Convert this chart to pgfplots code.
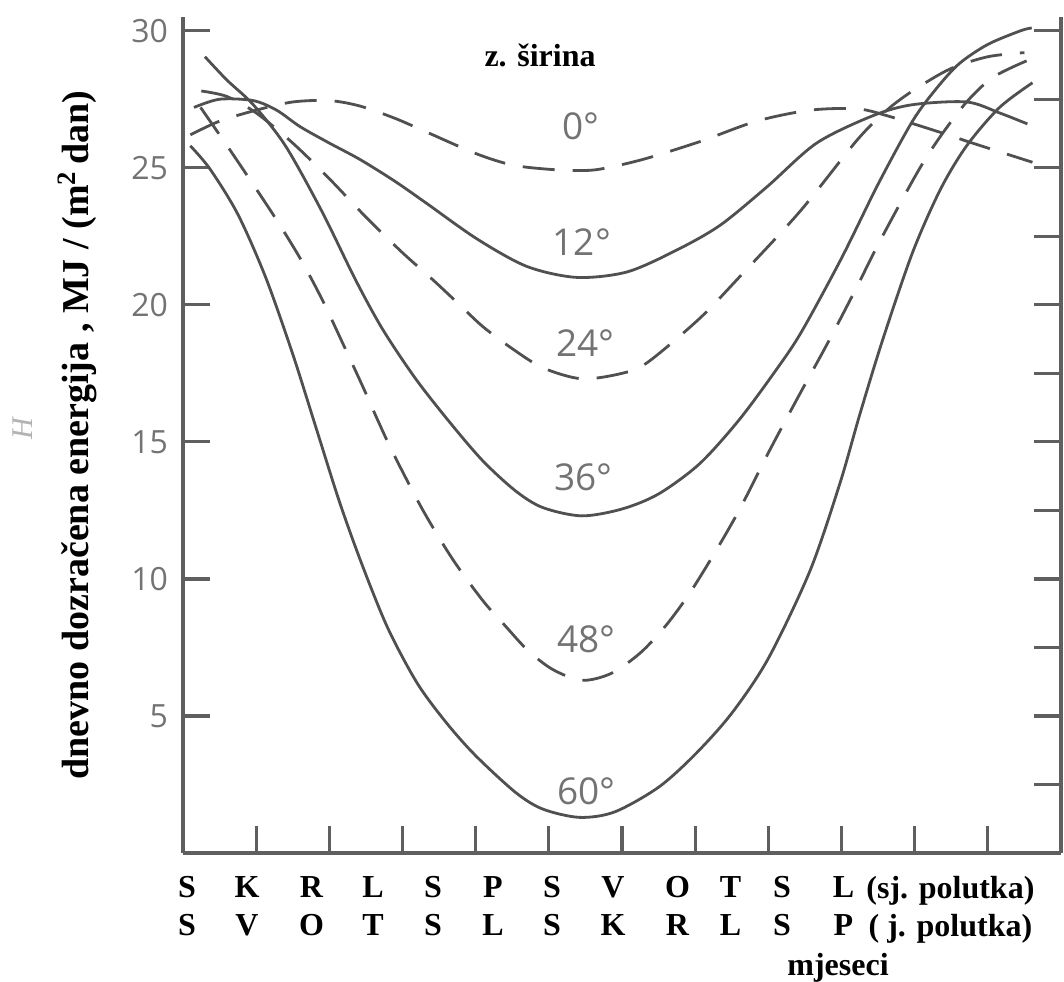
\documentclass[border=0pt]{standalone}
\usepackage{pgfplots}
\pgfplotsset{compat=1.18}
\usepackage{fontspec}
\setmainfont{Liberation Serif}
\newfontfamily\numfont{Open Sans}
\definecolor{curvegray}{RGB}{80,80,80}
\definecolor{axisgray}{RGB}{95,95,95}
\definecolor{labelgray}{RGB}{115,115,115}
\begin{document}
\begin{tikzpicture}
\path[use as bounding box] (-91.5pt,-64pt) rectangle (440.5pt,426.5pt);
\begin{axis}[
  at={(0pt,0pt)}, anchor=south west,
  scale only axis, width=439pt, height=418pt,
  xmin=0, xmax=12, ymin=0, ymax=30.5,
  axis lines*=left,
  xtick pos=left, ytick pos=left,
  tick align=inside,
  axis line style={line width=1.6pt, draw=axisgray},
  xtick={1,...,11},
  xticklabels={,,,,,,,,,,},
  ytick={5,10,15,20,25,30},
  major tick length=13.5pt,
  every tick/.style={line width=1.6pt, draw=axisgray},
  yticklabel style={font=\numfont\fontsize{16}{16}\selectfont, text=labelgray, xshift=-4pt},
  /pgf/number format/assume math mode=true,
  extra x ticks={0.055,0.875,1.756,2.597,3.417,4.237,5.043,5.877,6.758,7.483,8.187,9.027,10.489},
  extra x tick labels={{S\\S},{K\\V},{R\\O},{L\\T},{S\\S},{P\\L},{S\\S},{V\\K},{O\\R},{T\\L},{S\\S},{L\\P},{(sj. polutka)\\( j. polutka)}},
  extra x tick style={major tick length=0pt},
  xticklabel style={font=\bfseries\fontsize{16}{19}\selectfont, align=center, anchor=north, yshift=-8pt},
  xlabel={mjeseci},
  xlabel style={at={(axis description cs:0.746,0)}, anchor=base, yshift=-61pt, font=\bfseries\fontsize{16}{19}\selectfont},
  ylabel={dnevno dozračena energija , MJ / (m\textsuperscript{2}\,dan)},
  ylabel style={at={(axis description cs:-0.108,0.5)}, anchor=base, rotate=0, font=\bfseries\fontsize{19}{23}\selectfont},
  clip=false,
]
% 0 deg
\addplot[curvegray, line width=1.4pt, dash pattern=on 16pt off 9pt, smooth] coordinates {
(0.1,26.2)(0.5,26.7)(1.0,27.1)(1.5,27.4)(2.0,27.45)(2.42,27.25)(2.9,26.8)(3.33,26.3)(4.02,25.5)(4.5,25.1)(4.97,24.95)(5.4,24.9)(5.70,24.95)(6.28,25.3)(7.06,25.95)(7.84,26.7)(8.57,27.1)(9.21,27.15)(9.62,26.9)(10.34,26.3)(10.79,25.9)(11.61,25.2)};
% 12 deg
\addplot[curvegray, line width=1.4pt, smooth] coordinates {
(0.15,27.2)(0.5,27.5)(0.96,27.45)(1.28,27.1)(1.6,26.5)(2.0,25.9)(2.42,25.3)(2.9,24.5)(3.33,23.7)(4.02,22.4)(4.70,21.4)(5.38,21.0)(6.07,21.2)(6.75,22.0)(7.34,22.9)(7.98,24.3)(8.66,25.9)(9.43,26.9)(9.97,27.3)(10.71,27.4)(11.16,27.0)(11.54,26.6)};
% 24 deg
\addplot[curvegray, line width=1.4pt, dash pattern=on 16pt off 9pt, smooth] coordinates {
(0.25,27.8)(0.6,27.6)(1.0,27.0)(1.5,25.9)(2.0,24.6)(2.5,23.2)(3.0,21.9)(3.42,20.9)(3.78,20.0)(4.10,19.2)(4.5,18.4)(4.92,17.7)(5.45,17.3)(6.0,17.5)(6.35,17.9)(7.06,19.5)(7.6,21.0)(8.43,23.4)(9.21,26.0)(9.62,27.1)(9.97,27.8)(10.48,28.6)(11.0,29.05)(11.5,29.2)};
% 36 deg
\addplot[curvegray, line width=1.4pt, smooth] coordinates {
(0.3,29.05)(0.6,28.2)(0.96,27.3)(1.4,25.8)(1.9,23.4)(2.36,20.9)(2.73,19.1)(3.18,17.3)(3.65,15.7)(4.10,14.3)(4.55,13.2)(4.92,12.6)(5.45,12.3)(6.0,12.55)(6.5,13.1)(7.06,14.2)(7.6,15.8)(8.1,17.6)(8.45,19.0)(9.0,21.7)(9.5,24.4)(9.97,26.7)(10.3,27.9)(10.61,28.8)(11.0,29.5)(11.45,30.0)(11.6,30.1)};
% 48 deg
\addplot[curvegray, line width=1.4pt, dash pattern=on 16pt off 9pt, smooth] coordinates {
(0.24,27.2)(0.68,25.5)(1.23,23.3)(1.6,21.7)(1.9,20.2)(2.2,18.5)(2.46,17.0)(2.66,15.8)(2.87,14.6)(3.28,12.5)(3.69,10.7)(4.10,9.2)(4.4,8.3)(4.71,7.4)(5.05,6.7)(5.45,6.3)(5.85,6.55)(6.25,7.3)(6.6,8.3)(6.93,9.5)(7.3,11.1)(7.62,12.6)(8.0,14.6)(8.4,16.6)(8.81,18.6)(9.2,20.6)(9.52,22.3)(10.03,24.8)(10.34,26.1)(10.71,27.4)(11.07,28.3)(11.53,28.9)};
% 60 deg
\addplot[curvegray, line width=1.4pt, smooth] coordinates {
(0.1,25.8)(0.37,24.95)(0.75,23.3)(1.13,21.0)(1.5,18.2)(1.82,15.5)(2.14,12.8)(2.45,10.5)(2.8,8.2)(3.2,6.2)(3.6,4.75)(4.0,3.55)(4.55,2.2)(4.92,1.6)(5.42,1.3)(5.9,1.5)(6.5,2.4)(7.0,3.6)(7.5,5.1)(8.0,7.1)(8.57,10.3)(8.98,13.5)(9.25,16.0)(9.56,18.7)(9.97,21.9)(10.35,24.2)(10.71,25.8)(11.16,27.2)(11.61,28.1)};
\begin{scope}[every node/.style={font=\numfont\fontsize{18.5}{18.5}\selectfont, text=labelgray}]
\node at (axis cs:5.44,26.5) {0°};
\node at (axis cs:5.45,22.3) {12°};
\node at (axis cs:5.50,18.6) {24°};
\node at (axis cs:5.47,13.7) {36°};
\node at (axis cs:5.51,7.8) {48°};
\node at (axis cs:5.51,2.25) {60°};
\end{scope}
\node[font=\bfseries\fontsize{16}{19}\selectfont, anchor=base] at (axis cs:4.88,28.7) {z. širina};
\end{axis}
\begin{axis}[
  at={(0pt,0pt)}, anchor=south west,
  scale only axis, width=439pt, height=418pt,
  xmin=0, xmax=12, ymin=0, ymax=30.5,
  axis x line=none, axis y line*=right,
  ytick pos=right, tick align=inside,
  ytick={2.5,5,7.5,10,12.5,15,17.5,20,22.5,25,27.5,30},
  yticklabels={,,,,,,,,,,,},
  xtick=\empty,
  major tick length=13.5pt,
  axis line style={line width=1.6pt, draw=axisgray},
  every tick/.style={line width=1.6pt, draw=axisgray},
]
\end{axis}
\node[rotate=90, text=gray!60, font=\itshape\fontsize{15}{17}\selectfont] at (-80pt,212pt) {H};
\end{tikzpicture}
\end{document}
